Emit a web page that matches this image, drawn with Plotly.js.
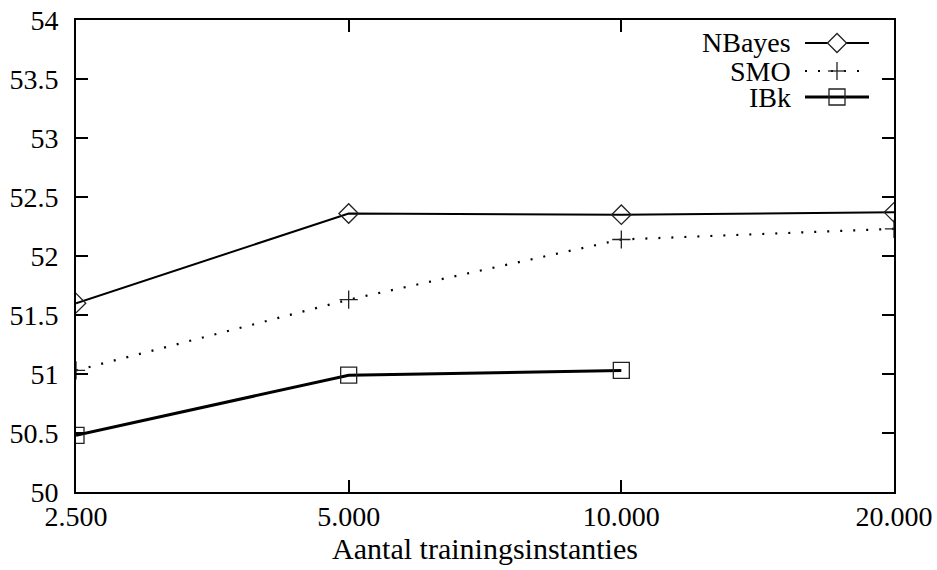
<!DOCTYPE html>
<html>
<head>
<meta charset="utf-8">
<script src="https://cdn.plot.ly/plotly-3.0.1.min.js"></script>
<style>
html,body{margin:0;padding:0;background:#fff;}
#fontwarm{position:absolute;left:-2000px;top:0;font-family:'Liberation Serif';font-size:28px;}
</style>
</head>
<body>
<div id="fontwarm">Aantal 2.500</div>
<div id="chart"></div>
<script>
// ---- data ----
var sizes = [2500, 5000, 10000, 20000];
var sizeLabels = ['2.500', '5.000', '10.000', '20.000'];
var nbayes = [51.60, 52.36, 52.35, 52.37];
var smo = [51.03, 51.63, 52.14, 52.23];
var ibkSizes = [2500, 5000, 10000];
var ibk = [50.48, 50.99, 51.03];
var seriesNames = ['NBayes', 'SMO', 'IBk'];
var yTicks = [50, 50.5, 51, 51.5, 52, 52.5, 53, 53.5, 54];
var yTickLabels = ['50', '50.5', '51', '51.5', '52', '52.5', '53', '53.5', '54'];
var xTitle = 'Aantal trainingsinstanties';

var FONT = 'Liberation Serif';
var mk = '#222';

var traces = [
  {x: sizes, y: nbayes, name: seriesNames[0], mode: 'lines+markers',
   line: {color: '#000', width: 2},
   marker: {symbol: 'diamond-open', size: 15, color: mk, line: {width: 1.3, color: mk}}},
  {x: sizes, y: smo, name: seriesNames[1], mode: 'lines+markers',
   line: {color: '#000', width: 2.2, dash: '2px,11px'},
   marker: {symbol: 'cross-thin-open', size: 13, color: mk, line: {width: 1.3, color: mk}}},
  {x: ibkSizes, y: ibk, name: seriesNames[2], mode: 'lines+markers',
   line: {color: '#000', width: 3},
   marker: {symbol: 'square-open', size: 16, color: mk, line: {width: 1.3, color: mk}}}
];

// ---- custom gnuplot-style key (text, then sample) ----
var W = 818, H = 472; // plot area in px
function px(dx) { return dx / W; }
function py(dy) { return dy / H; }
var keyTextX = (793 - 76) / W;
var keyL = (805 - 76) / W, keyR = (869 - 76) / W, keyC = (837 - 76) / W;
var rowsY = [(492 - 43) / H, (492 - 71) / H, (492 - 97) / H];
var annotations = [], shapes = [];
for (var i = 0; i < 3; i++) {
  annotations.push({xref: 'paper', yref: 'paper', x: keyTextX, y: rowsY[i],
    xanchor: 'right', yanchor: 'middle', showarrow: false, text: seriesNames[i],
    font: {family: FONT, size: 28, color: '#000'}});
}
shapes.push({type: 'line', xref: 'paper', yref: 'paper', x0: keyL, x1: keyR, y0: rowsY[0], y1: rowsY[0], line: {color: '#000', width: 2}});
shapes.push({type: 'path', xref: 'paper', yref: 'paper',
  path: 'M' + (keyC - px(9.5)) + ',' + rowsY[0] + ' L' + keyC + ',' + (rowsY[0] + py(9.5)) +
        ' L' + (keyC + px(9.5)) + ',' + rowsY[0] + ' L' + keyC + ',' + (rowsY[0] - py(9.5)) + ' Z',
  fillcolor: '#fff', line: {color: mk, width: 1.3}});
shapes.push({type: 'line', xref: 'paper', yref: 'paper', x0: keyL, x1: keyR, y0: rowsY[1], y1: rowsY[1], line: {color: '#000', width: 2.2, dash: '2px,11px'}});
shapes.push({type: 'line', xref: 'paper', yref: 'paper', x0: keyC - px(9), x1: keyC + px(9), y0: rowsY[1], y1: rowsY[1], line: {color: mk, width: 1.3}});
shapes.push({type: 'line', xref: 'paper', yref: 'paper', x0: keyC, x1: keyC, y0: rowsY[1] - py(9), y1: rowsY[1] + py(9), line: {color: mk, width: 1.3}});
shapes.push({type: 'line', xref: 'paper', yref: 'paper', x0: keyL, x1: keyR, y0: rowsY[2], y1: rowsY[2], line: {color: '#000', width: 3}});
shapes.push({type: 'rect', xref: 'paper', yref: 'paper', x0: keyC - px(8), x1: keyC + px(8), y0: rowsY[2] - py(8), y1: rowsY[2] + py(8), fillcolor: 'rgba(0,0,0,0)', line: {color: mk, width: 1.3}});

var layout = {
  width: 937, height: 570,
  margin: {l: 76, r: 43, t: 20, b: 78, pad: 0},
  paper_bgcolor: '#fff', plot_bgcolor: '#fff',
  showlegend: false,
  font: {family: FONT, size: 28, color: '#000'},
  xaxis: {
    type: 'log', range: [Math.log10(sizes[0]), Math.log10(sizes[sizes.length - 1])],
    tickvals: sizes, ticktext: sizeLabels,
    showgrid: false, zeroline: false,
    showline: true, linecolor: '#000', linewidth: 2, mirror: 'ticks',
    ticks: 'inside', ticklen: 12, tickwidth: 2, tickcolor: '#000',
    ticklabelstandoff: -2,
    tickfont: {family: FONT, size: 28, color: '#000'},
    title: {text: xTitle, font: {family: FONT, size: 30, color: '#000'}, standoff: 2}
  },
  yaxis: {
    range: [50, 54], tickvals: yTicks, ticktext: yTickLabels,
    showgrid: false, zeroline: false,
    showline: true, linecolor: '#000', linewidth: 2, mirror: 'ticks',
    ticks: 'inside', ticklen: 12, tickwidth: 2, tickcolor: '#000',
    ticklabelstandoff: 10,
    tickfont: {family: FONT, size: 28, color: '#000'}
  },
  annotations: annotations,
  shapes: shapes
};

var cfg = {displayModeBar: false, staticPlot: true};
Plotly.newPlot('chart', traces, layout, cfg);
if (document.fonts && document.fonts.load) {
  document.fonts.load("28px 'Liberation Serif'").then(function () {
    Plotly.react('chart', traces, layout, cfg);
  });
}
</script>
</body>
</html>
